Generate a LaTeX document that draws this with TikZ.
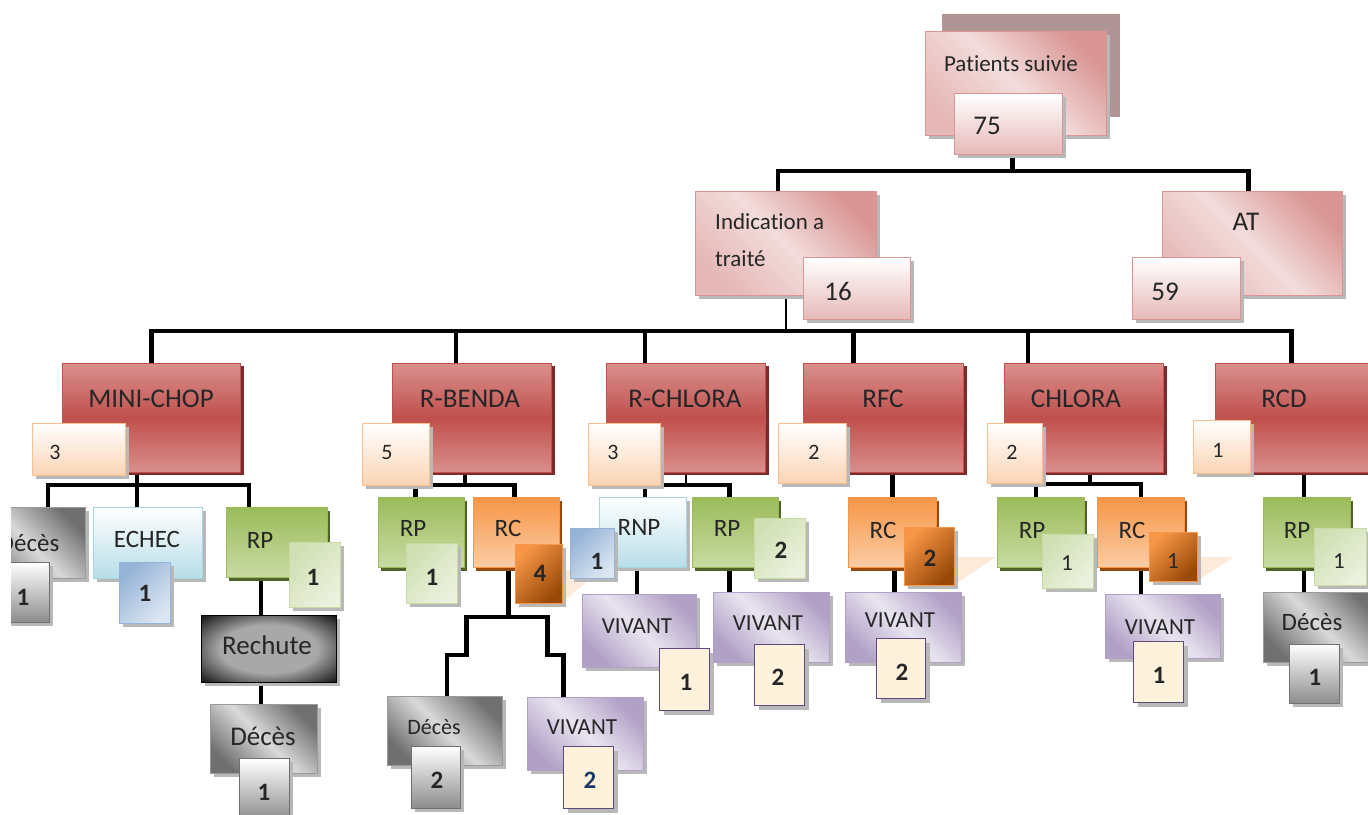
\documentclass[tikz,border=0pt]{standalone}
\usepackage{fontspec}
\setmainfont{Carlito}[Ligatures=NoCommon]
\usetikzlibrary{shadows,backgrounds}

\definecolor{pinkL}{HTML}{F2DCDB}
\definecolor{pinkD}{HTML}{D99694}
\definecolor{pinkE}{HTML}{E6B9B8}
\definecolor{pinkBack}{HTML}{B09496}
\definecolor{redM}{HTML}{C0504D}
\definecolor{redL}{HTML}{D98F8D}
\definecolor{redS}{HTML}{7B2C2A}
\definecolor{peachB}{HTML}{FAC090}
\definecolor{peachD}{HTML}{FBD4B4}
\definecolor{peachR}{HTML}{FDEADA}
\definecolor{greenD}{HTML}{9BBB59}
\definecolor{greenL}{HTML}{C9DBA5}
\definecolor{greenS}{HTML}{4F6228}
\definecolor{greenP}{HTML}{D0E0B3}
\definecolor{greenQ}{HTML}{EBF1DE}
\definecolor{orangeD}{HTML}{F79646}
\definecolor{orangeL}{HTML}{FBCDA6}
\definecolor{orangeS}{HTML}{984807}
\definecolor{blueL}{HTML}{B7DDE8}
\definecolor{blueB}{HTML}{A5D5E2}
\definecolor{blueN}{HTML}{95B3D7}
\definecolor{blueP}{HTML}{DCE6F2}
\definecolor{purpleD}{HTML}{B2A1C7}
\definecolor{purpleL}{HTML}{E8E4EF}
\definecolor{purpleB}{HTML}{5F497A}
\definecolor{creamF}{HTML}{FEF2DC}
\definecolor{greyD}{HTML}{707070}
\definecolor{greyL}{HTML}{D9D9D9}
\definecolor{greyB}{HTML}{9A9A9A}
\definecolor{greyN}{HTML}{8C8C8C}
\definecolor{greyR}{HTML}{A8A8A8}
\definecolor{inkT}{HTML}{262626}
\definecolor{navyT}{HTML}{1F3864}

\pgfdeclareradialshading{rechuteshade}{\pgfpoint{0bp}{0bp}}{color(0bp)=(greyR); color(18bp)=(greyR); color(34bp)=(black!88); color(50bp)=(black)}

\tikzset{
  tree/.style={line width=4.5pt},
  thinline/.style={line width=1.2pt},
  wh/.style 2 args={minimum width=#1, minimum height=#2},
  box/.style={rectangle, inner sep=0pt, anchor=north west, line width=.8pt},
  greyshadow/.style={drop shadow={shadow xshift=4pt, shadow yshift=-4pt, fill=black!28, opacity=1}},
  topbox/.style={box, draw=pinkD, top color=pinkD, bottom color=pinkE, middle color=pinkL, shading angle=-45, greyshadow},
  topnum/.style={box, draw=pinkD, top color=white, bottom color=pinkE, greyshadow},
  redbox/.style={box, draw=redM, top color=redL, bottom color=redL, middle color=redM,
    drop shadow={shadow xshift=4pt, shadow yshift=-3pt, fill=redS, opacity=1}},
  peachnum/.style={box, draw=peachB, top color=white, bottom color=peachD, greyshadow},
  greenbox/.style={box, draw=greenD, top color=greenD, bottom color=greenL,
    drop shadow={shadow xshift=3pt, shadow yshift=-4pt, fill=greenS, opacity=1}},
  greennum/.style={box, draw=greenL, top color=greenP, bottom color=greenQ, shading angle=45, greyshadow},
  orangebox/.style={box, draw=orangeD, top color=orangeD, bottom color=orangeL,
    drop shadow={shadow xshift=3pt, shadow yshift=-4pt, fill=orangeS, opacity=1}},
  orangenum/.style={box, draw=orangeD, top color=orangeD, bottom color=orangeS, shading angle=45, greyshadow},
  bluebox/.style={box, draw=blueB, top color=white, bottom color=blueL, greyshadow},
  bluenum/.style={box, draw=blueN, top color=blueN, bottom color=blueP, shading angle=45, greyshadow},
  purplebox/.style={box, draw=purpleD, top color=purpleD, bottom color=purpleD, middle color=purpleL, shading angle=-45, greyshadow},
  creamnum/.style={box, draw=purpleB, fill=creamF, line width=1.2pt, greyshadow},
  greybox/.style={box, draw=greyB, top color=greyD, bottom color=greyD, middle color=greyL, shading angle=-45, greyshadow},
  greynum/.style={box, draw=greyD, top color=white, bottom color=greyN, greyshadow},
  darkbox/.style={box, draw=black, shade, shading=rechuteshade, greyshadow},
  lbl/.style={inner sep=0pt, text=inkT, text depth=0pt},
  toptxt/.style={lbl, text height=14.7pt, font=\fontsize{23}{23}\selectfont},
  topnumtxt/.style={lbl, text height=17.3pt, font=\fontsize{27}{27}\selectfont},
  redtxt/.style={lbl, text height=17.3pt, font=\fontsize{27}{27}\selectfont},
  smalltxt/.style={lbl, text height=14pt, font=\fontsize{22}{22}\selectfont},
  leaftxt/.style={lbl, text height=16pt, font=\fontsize{25}{25}\selectfont},
  vivtxt/.style={lbl, text height=14.7pt, font=\fontsize{23}{23}\selectfont},
  numtxt/.style={lbl, text height=16pt, font=\fontsize{25}{25}\selectfont\bfseries},
  plainnum/.style={lbl, text height=15pt, font=\fontsize{23}{23}\selectfont},
}

\begin{document}
\begin{tikzpicture}[x=1pt,y=-1pt]
  \useasboundingbox (0,0) rectangle (1368,814);
  \begin{scope}
    \clip (11,0) rectangle (1368,814);

    % top of the tree
    \fill[pinkBack] (942,14) rectangle (1120,117);
    \node[topbox, wh={181}{104}] (ps) at (925,31) {};
    \node[toptxt] (psT) at (1011,64) {Patients suivie};
    \node[topnum, wh={108}{61}] (n75) at (954,93) {};
    \node[topnumtxt] (n75T) at (987,126) {75};

    \node[topbox, wh={181}{104}] (indic) at (695,191) {};
    \node[lbl, anchor=west, align=left, font=\fontsize{23}{37}\selectfont] (indicT) at (715,240) {Indication a\\traité};
    \node[topnum, wh={107}{62}] (n16) at (803,257) {};
    \node[topnumtxt] (n16T) at (838,292) {16};

    \node[topbox, wh={180}{104}] (at) at (1162,191) {};
    \node[topnumtxt] (atT) at (1246,222) {AT};
    \node[topnum, wh={108}{62}] (n59) at (1132,257) {};
    \node[topnumtxt] (n59T) at (1165,292) {59};

    % treatments
    \node[redbox, wh={178}{109}] (mini) at (62,363) {};
    \node[redtxt] (miniT) at (151,399) {MINI-CHOP};
    \node[redbox, wh={159}{109}] (rbenda) at (392,363) {};
    \node[redtxt] (rbendaT) at (470,399) {R-BENDA};
    \node[redbox, wh={159}{109}] (rchlora) at (606,363) {};
    \node[redtxt] (rchloraT) at (685,399) {R-CHLORA};
    \node[redbox, wh={160}{109}] (rfc) at (803,363) {};
    \node[redtxt] (rfcT) at (883,399) {RFC};
    \node[redbox, wh={159}{109}] (chlora) at (1004,363) {};
    \node[redtxt] (chloraT) at (1076,399) {CHLORA};
    \node[redbox, wh={170}{109}] (rcd) at (1215,363) {};
    \node[redtxt] (rcdT) at (1284,399) {RCD};

    \node[peachnum, wh={93}{52}] (nmini) at (32,423) {};
    \node[smalltxt] (nminiT) at (55,452) {3};
    \node[peachnum, wh={67}{62}] (nrbenda) at (362,423) {};
    \node[smalltxt] (nrbendaT) at (387,452) {5};
    \node[peachnum, wh={72}{62}] (nrchlora) at (588,423) {};
    \node[smalltxt] (nrchloraT) at (613,452) {3};
    \node[peachnum, wh={68}{60}] (nrfc) at (778,423) {};
    \node[smalltxt] (nrfcT) at (814,452) {2};
    \node[peachnum, wh={55}{60}] (nchlora) at (987,423) {};
    \node[smalltxt] (nchloraT) at (1012,452) {2};
    \node[peachnum, wh={57}{53}] (nrcd) at (1193,420) {};
    \node[smalltxt] (nrcdT) at (1218,450) {1};

    % reflections
    \fill[peachR] (562,570) -- (600,570) -- (562,603) -- cycle;
    \fill[peachR] (954,557) -- (996,557) -- (954,585) -- cycle;
    \fill[peachR] (1197,557) -- (1234,557) -- (1197,581) -- cycle;

    % MINI-CHOP
    \node[greybox, wh={115}{71}] (dec1) at (-30,507) {};
    \node[leaftxt] (dec1T) at (29,543) {Décès};
    \node[greynum, wh={64}{60}] (ndec1) at (-15,562) {};
    \node[numtxt] (ndec1T) at (23,597) {1};
    \node[bluebox, wh={109}{71}] (echec) at (93,507) {};
    \node[leaftxt] (echecT) at (147,539) {ECHEC};
    \node[bluenum, wh={51}{61}] (nechec) at (119,562) {};
    \node[numtxt] (nechecT) at (145,593) {1};
    \node[greenbox, wh={101}{70}] (rp1) at (226,507) {};
    \node[leaftxt] (rp1T) at (260,540) {RP};
    \node[greennum, wh={51}{65}] (nrp1) at (289,542) {};
    \node[numtxt] (nrp1T) at (313,577) {1};
    \node[darkbox, wh={135}{67}] (rech) at (201,615) {};
    \node[lbl, text height=17.3pt, font=\fontsize{27}{27}\selectfont] (rechT) at (267,646) {Rechute};
    \node[greybox, wh={107}{69}] (dec2) at (210,704) {};
    \node[redtxt] (dec2T) at (263,737) {Décès};
    \node[greynum, wh={50}{62}] (ndec2) at (239,758) {};
    \node[numtxt] (ndec2T) at (264,792) {1};

    % R-BENDA
    \node[greenbox, wh={86}{70}] (rp2) at (378,497) {};
    \node[leaftxt] (rp2T) at (413,528) {RP};
    \node[greennum, wh={51}{60}] (nrp2) at (406,543) {};
    \node[numtxt] (nrp2T) at (432,577) {1};
    \node[orangebox, wh={86}{70}] (rc2) at (473,497) {};
    \node[leaftxt] (rc2T) at (508,528) {RC};
    \node[orangenum, wh={47}{59}] (nrc2) at (515,544) {};
    \node[numtxt] (nrc2T) at (540,573) {4};
    \node[greybox, wh={115}{69}] (dec3) at (387,696) {};
    \node[lbl, text height=14pt, font=\fontsize{22}{22}\selectfont] (dec3T) at (434,727) {Décès};
    \node[greynum, wh={49}{62}] (ndec3) at (411,746) {};
    \node[numtxt] (ndec3T) at (437,780) {2};
    \node[purplebox, wh={116}{73}] (viv1) at (527,697) {};
    \node[vivtxt] (viv1T) at (582,727) {VIVANT};
    \node[creamnum, wh={50}{62}] (nviv1) at (563,746) {};
    \node[numtxt, text=navyT] (nviv1T) at (590,780) {2};

    % R-CHLORA
    \node[bluebox, wh={87}{70}] (rnp) at (599,497) {};
    \node[leaftxt] (rnpT) at (639,527) {RNP};
    \node[bluenum, wh={44}{50}] (nrnp) at (570,528) {};
    \node[numtxt] (nrnpT) at (597,561) {1};
    \node[purplebox, wh={114}{73}] (viv2) at (582,594) {};
    \node[vivtxt] (viv2T) at (637,626) {VIVANT};
    \node[creamnum, wh={50}{62}] (nviv2) at (659,648) {};
    \node[numtxt] (nviv2T) at (686,682) {1};
    \node[greenbox, wh={86}{70}] (rp3) at (692,497) {};
    \node[leaftxt] (rp3T) at (727,528) {RP};
    \node[greennum, wh={51}{60}] (nrp3) at (754,518) {};
    \node[numtxt] (nrp3T) at (781,550) {2};
    \node[purplebox, wh={116}{70}] (viv3) at (713,592) {};
    \node[vivtxt] (viv3T) at (768,623) {VIVANT};
    \node[creamnum, wh={50}{61}] (nviv3) at (754,644) {};
    \node[numtxt] (nviv3T) at (778,677) {2};

    % RFC
    \node[orangebox, wh={88}{70}] (rc4) at (848,497) {};
    \node[leaftxt] (rc4T) at (883,530) {RC};
    \node[orangenum, wh={50}{58}] (nrc4) at (904,527) {};
    \node[numtxt] (nrc4T) at (930,558) {2};
    \node[purplebox, wh={116}{70}] (viv4) at (845,592) {};
    \node[vivtxt] (viv4T) at (900,620) {VIVANT};
    \node[creamnum, wh={49}{60}] (nviv4) at (876,638) {};
    \node[numtxt] (nviv4T) at (902,672) {2};

    % CHLORA
    \node[greenbox, wh={87}{70}] (rp5) at (997,497) {};
    \node[leaftxt] (rp5T) at (1032,530) {RP};
    \node[greennum, wh={51}{54}] (nrp5) at (1042,534) {};
    \node[plainnum] (nrp5T) at (1067,563) {1};
    \node[orangebox, wh={87}{70}] (rc5) at (1097,497) {};
    \node[leaftxt] (rc5T) at (1132,530) {RC};
    \node[orangenum, wh={48}{49}] (nrc5) at (1149,532) {};
    \node[plainnum] (nrc5T) at (1173,561) {1};
    \node[purplebox, wh={115}{64}] (viv5) at (1105,594) {};
    \node[vivtxt] (viv5T) at (1160,627) {VIVANT};
    \node[creamnum, wh={50}{61}] (nviv5) at (1133,641) {};
    \node[numtxt] (nviv5T) at (1159,675) {1};

    % RCD
    \node[greenbox, wh={87}{70}] (rp6) at (1263,497) {};
    \node[leaftxt] (rp6T) at (1297,530) {RP};
    \node[greennum, wh={52}{57}] (nrp6) at (1314,528) {};
    \node[plainnum] (nrp6T) at (1339,561) {1};
    \node[greybox, wh={117}{70}] (dec6) at (1263,592) {};
    \node[leaftxt] (dec6T) at (1312,622) {Décès};
    \node[greynum, wh={50}{59}] (ndec6) at (1289,644) {};
    \node[numtxt] (ndec6T) at (1315,677) {1};

    \begin{pgfonlayer}{background}
      \draw[tree] ([xshift=4]n75.south) -- ++(0,16) coordinate (topbus);
      \draw[tree] ([xshift=-8]indic.north) |- (topbus) -| ([xshift=-4]at.north);
      \draw[thinline] (indic.south) -- ++(0,35) coordinate (bus);
      \draw[tree] (mini.north) |- (bus) -| ([xshift=-9]rcd.north);
      \draw[tree] ([xshift=-16]rbenda.north) -- ++(0,-33);
      \draw[tree] ([xshift=-41]rchlora.north) -- ++(0,-33);
      \draw[tree] ([xshift=-30]rfc.north) -- ++(0,-33);
      \draw[tree] ([xshift=-56]chlora.north) -- ++(0,-33);

      \draw[tree] ([xshift=-11]echec.north) -- ([xshift=-11]echec.north |- mini.south);
      \draw[tree] ([xshift=20]dec1.north) |- ([yshift=-12]mini.south) -| ([xshift=-28]rp1.north);
      \draw[tree] ([xshift=-16]rp1.south) -- ([xshift=-16]rp1.south |- rech.north);
      \draw[tree] ([xshift=-8]rech.south) -- ([xshift=-8]rech.south |- dec2.north);

      \draw[tree] ([xshift=-7]rbenda.south) -- ++(0,12) coordinate (bendabus);
      \draw[tree] ([xshift=-6]rp2.north) |- (bendabus) -| ([xshift=-2]rc2.north);
      \draw[tree] ([xshift=-8]rc2.south) -- ++(0,49) coordinate (rcbus);
      \draw[tree] (rcbus) -- ++(-42,0) -- ++(0,38) -| ([xshift=2]dec3.north);
      \draw[tree] (rcbus) -- ++(39,0) -- ++(0,38) -| ([xshift=-22]viv1.north);

      \draw[thinline] (rchlora.south) -- ++(0,12) coordinate (rchlbus);
      \draw[tree] ([xshift=2]rnp.north) |- (rchlbus) -| ([xshift=-6]rp3.north);
      \draw[tree] ([xshift=-6]rnp.south) -- ([xshift=-6]rnp.south |- viv2.north);
      \draw[tree] ([xshift=-6]rp3.south) -- ([xshift=-6]rp3.south |- viv3.north);

      \draw[tree] (rc4.north) -- (rc4.north |- rfc.south);
      \draw[tree] ([xshift=2]rc4.south) -- ([xshift=2]rc4.south |- viv4.north);

      \draw[tree] ([xshift=6]chlora.south) -- ++(0,11) coordinate (chlbus);
      \draw[tree] ([xshift=-5]rp5.north) |- (chlbus) -| (rc5.north);
      \draw[tree] (rc5.south) -- (rc5.south |- viv5.north);

      \draw[tree] ([xshift=-3]rp6.north) -- ([xshift=-3]rp6.north |- rcd.south);
      \draw[tree] ([xshift=-3]rp6.south) -- ([xshift=-3]rp6.south |- dec6.north);
    \end{pgfonlayer}
  \end{scope}
\end{tikzpicture}
\end{document}
